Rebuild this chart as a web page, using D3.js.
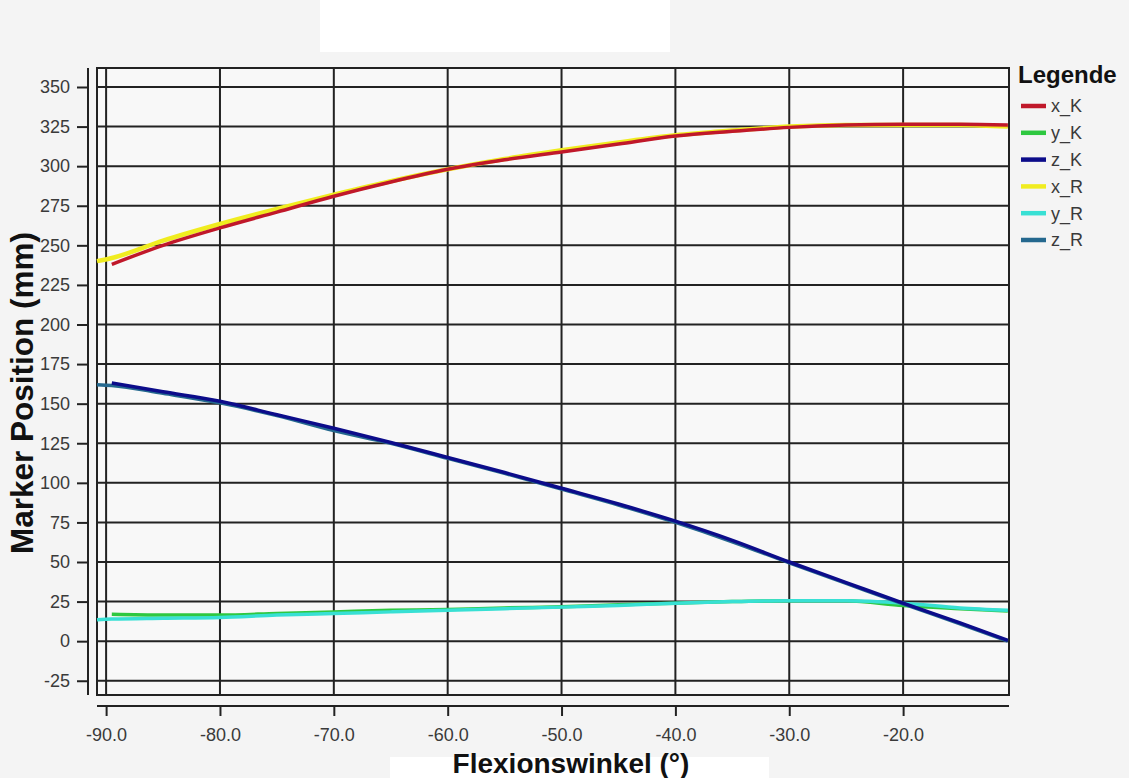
<!DOCTYPE html>
<html><head><meta charset="utf-8">
<script src="https://cdn.jsdelivr.net/npm/d3@7"></script>
<style>
html,body{margin:0;padding:0;background:#f4f4f4;}
svg{display:block;font-family:"Liberation Sans",Arial,sans-serif;}
</style></head>
<body>
<svg id="chart" width="1129" height="778"></svg>
<script>
const angles = [-90.8, -89.5, -85, -80, -75, -70, -65, -60, -55, -50, -45, -40, -35, -30, -25, -20, -15, -10.8];
const xK = [null, 238, 250, 261, 271, 281, 290, 298, 304, 309, 314, 319, 322, 324.5, 326, 326.5, 326.5, 326];
const yK = [null, 17, 16.5, 16.5, 17.5, 18.5, 19.5, 20, 21, 21.7, 23, 24, 25, 25.5, 25.5, 22.5, 20.5, 19];
const zK = [null, 163, 157.5, 151.5, 143, 134.5, 125.5, 116, 106.5, 96.6, 86.6, 75.8, 63.7, 50, 37, 24, 11.5, 0.5];
const xR = [240, 242, 253, 263.5, 273, 282, 290.5, 298, 304.5, 310, 315, 319.5, 322.5, 325, 326, 326, 326, 325];
const yR = [13.5, 14, 14.5, 15, 16.5, 17.5, 18.5, 19.5, 20.5, 21.5, 22.5, 24, 25, 25.5, 25.5, 24, 21, 19.5];
const zR = [162, 161.5, 156.5, 150.5, 142.5, 133, 125, 115.5, 106, 96, 86, 75, 62.8, 49.5, 36.5, 23.5, 11, 0];

const xTicks = [-90, -80, -70, -60, -50, -40, -30, -20];
const yTicks = [-25, 0, 25, 50, 75, 100, 125, 150, 175, 200, 225, 250, 275, 300, 325, 350];

const seriesNames = ["x_K", "y_K", "z_K", "x_R", "y_R", "z_R"];
const seriesColors = ["#c0182a", "#2ec840", "#0c0c8a", "#f0ec20", "#38e0d4", "#24688e"];
const seriesValues = [xK, yK, zK, xR, yR, zR];
const drawOrder = [3, 0, 1, 4, 5, 2];

const svg = d3.select("#chart");
const L = 97, R = 1009, T = 68, B = 695;
const x = d3.scaleLinear().domain([-90.8, -10.7]).range([L, R]);
const y = d3.scaleLinear().domain([-34, 362]).range([B, T]);

// background patches
svg.append("rect").attr("x", 0).attr("y", 0).attr("width", 1129).attr("height", 778).attr("fill", "#f4f4f4");
svg.append("rect").attr("x", 320).attr("y", 0).attr("width", 350).attr("height", 52).attr("fill", "#ffffff");
svg.append("rect").attr("x", 390).attr("y", 757).attr("width", 379).attr("height", 21).attr("fill", "#ffffff");

// plot area
svg.append("rect").attr("x", L).attr("y", T).attr("width", R - L).attr("height", B - T).attr("fill", "#f8f8f8");

const grid = svg.append("g").attr("stroke", "#222").attr("stroke-width", 2);
grid.selectAll("line.v").data(xTicks).join("line")
  .attr("x1", d => x(d)).attr("x2", d => x(d)).attr("y1", T).attr("y2", B);
grid.selectAll("line.h").data(yTicks).join("line")
  .attr("y1", d => y(d)).attr("y2", d => y(d)).attr("x1", L).attr("x2", R);
svg.append("rect").attr("x", L).attr("y", T).attr("width", R - L).attr("height", B - T)
  .attr("fill", "none").attr("stroke", "#222").attr("stroke-width", 2);

// series
const line = d3.line()
  .defined(d => d[1] !== null)
  .x(d => x(d[0])).y(d => y(d[1]))
  .curve(d3.curveMonotoneX);
drawOrder.forEach(i => {
  const pts = angles.map((a, j) => [a, seriesValues[i][j]]);
  svg.append("path").datum(pts).attr("d", line)
    .attr("fill", "none").attr("stroke", seriesColors[i])
    .attr("stroke-width", i === 3 ? 4.5 : 3.5).attr("stroke-linejoin", "round");
});

const tickFont = "'Liberation Sans',Arial,sans-serif";
// axes
const yAxis = d3.axisLeft(y).tickValues(yTicks).tickSize(11).tickSizeOuter(0).tickPadding(7).tickFormat(d => String(d));
const gy = svg.append("g").attr("transform", "translate(88,0)").call(yAxis);
gy.select(".domain").attr("d", `M0,${T}V${B}`).attr("stroke", "#222").attr("stroke-width", 2);
gy.selectAll(".tick line").attr("stroke", "#222").attr("stroke-width", 2);
gy.selectAll(".tick text").attr("font-size", 18).attr("fill", "#3a3a3a").attr("font-family", tickFont);

const xAxis = d3.axisBottom(x).tickValues(xTicks).tickSize(10).tickSizeOuter(0).tickPadding(12).tickFormat(d => d.toFixed(1));
const gx = svg.append("g").attr("transform", "translate(0,706)").call(xAxis);
gx.select(".domain").attr("d", `M${L},0H${R}`).attr("stroke", "#222").attr("stroke-width", 2);
gx.selectAll(".tick line").attr("stroke", "#222").attr("stroke-width", 2);
gx.selectAll(".tick text").attr("font-size", 18).attr("fill", "#3a3a3a").attr("font-family", tickFont);

// titles
svg.append("text").attr("x", 571).attr("y", 773).attr("text-anchor", "middle")
  .attr("font-size", 28).attr("font-weight", "bold").attr("fill", "#111").text("Flexionswinkel (°)");
svg.append("text").attr("transform", "translate(33,393) rotate(-90)").attr("text-anchor", "middle")
  .attr("font-size", 31.5).attr("font-weight", "bold").attr("fill", "#111").text("Marker Position (mm)");

// legend
svg.append("text").attr("x", 1018).attr("y", 83).attr("font-size", 24).attr("font-weight", "bold").attr("fill", "#111").text("Legende");
const lg = svg.append("g");
seriesNames.forEach((n, i) => {
  const yy = 106 + i * 26.8;
  lg.append("line").attr("x1", 1021).attr("x2", 1046).attr("y1", yy).attr("y2", yy)
    .attr("stroke", seriesColors[i]).attr("stroke-width", 4.5);
  lg.append("text").attr("x", 1051).attr("y", yy).attr("dy", "0.35em").attr("font-size", 18).attr("fill", "#3a3a3a").text(n);
});
</script>
</body></html>
